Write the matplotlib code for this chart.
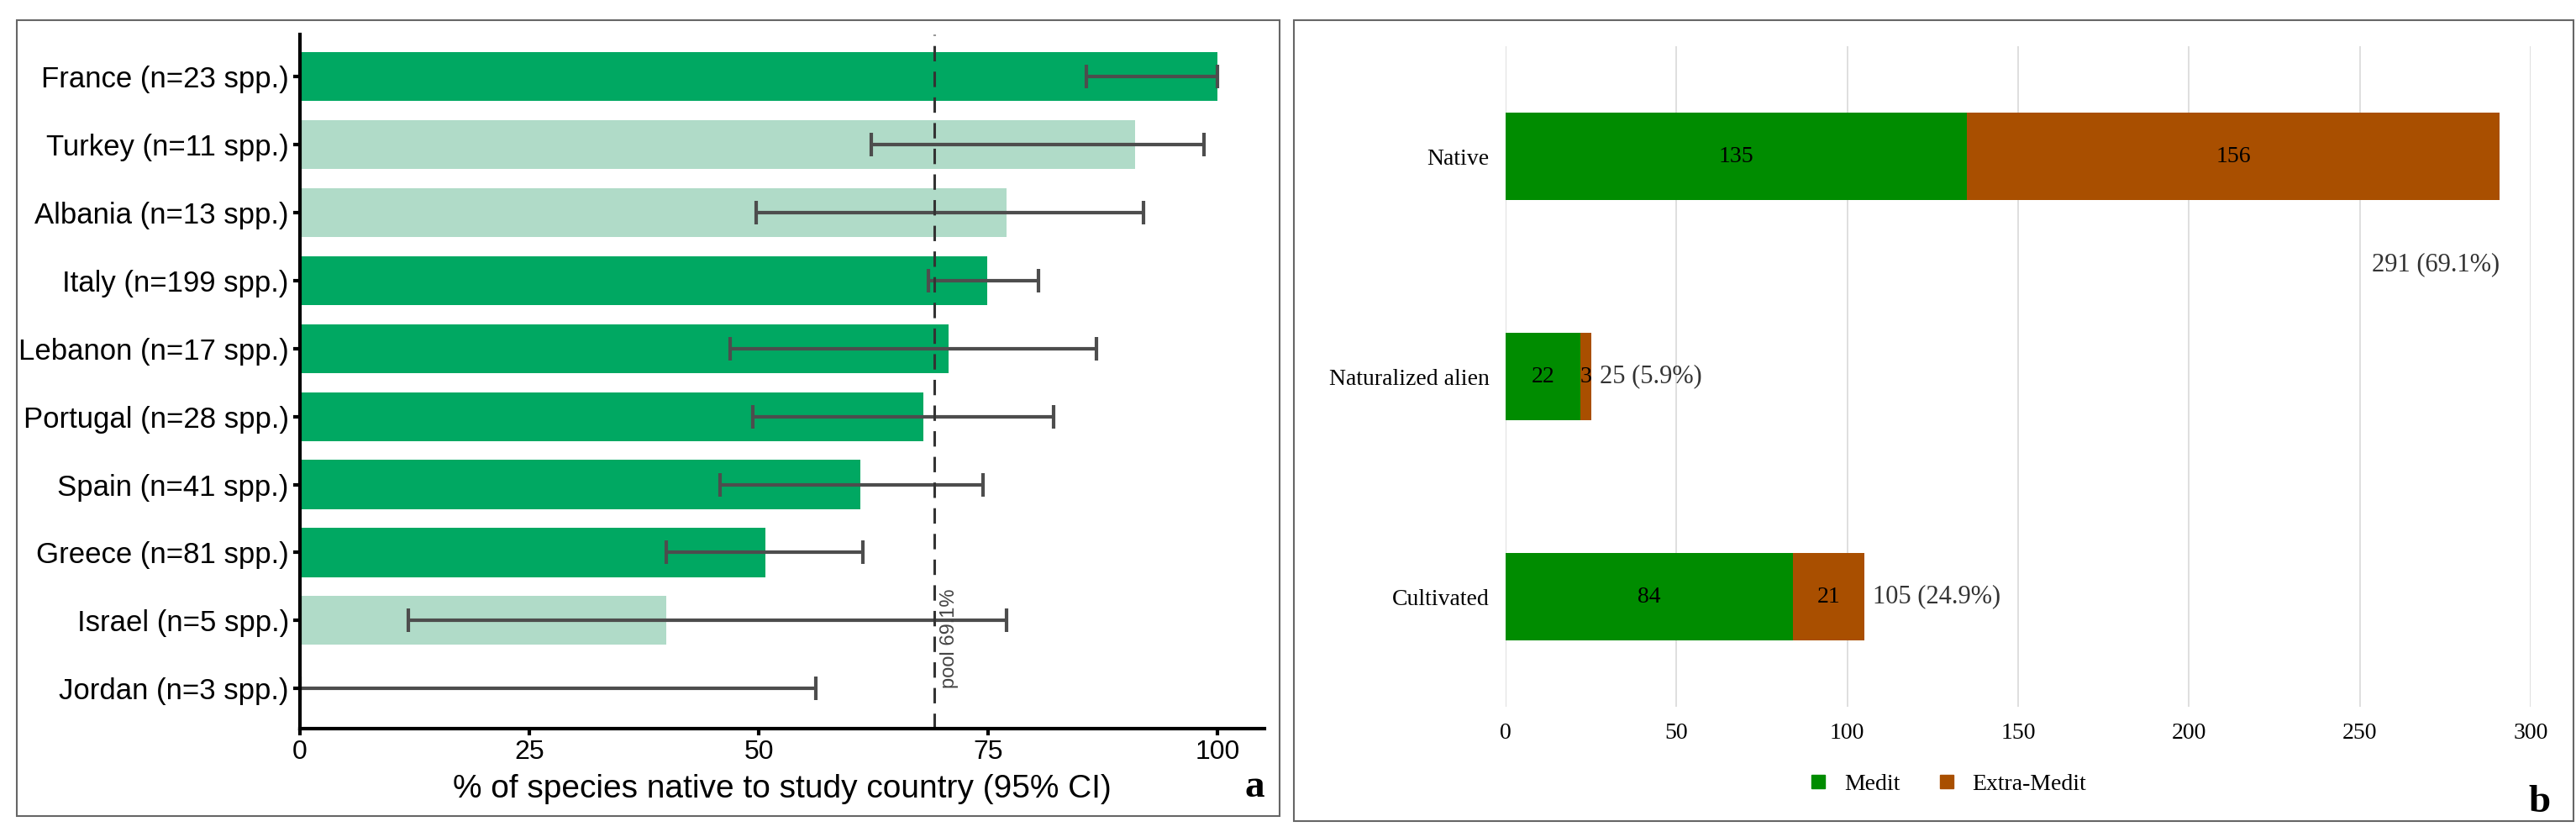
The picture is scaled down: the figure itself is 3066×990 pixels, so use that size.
import matplotlib
matplotlib.use("Agg")
import matplotlib.pyplot as plt
from matplotlib.patches import Rectangle
from matplotlib.lines import Line2D
from matplotlib import font_manager

countries = ["France (n=23 spp.)", "Turkey (n=11 spp.)", "Albania (n=13 spp.)", "Italy (n=199 spp.)",
             "Lebanon (n=17 spp.)", "Portugal (n=28 spp.)", "Spain (n=41 spp.)", "Greece (n=81 spp.)",
             "Israel (n=5 spp.)", "Jordan (n=3 spp.)"]
pct_native = [100, 91.0, 77.0, 74.9, 70.7, 67.9, 61.1, 50.7, 39.9, 0]
ci_low = [85.7, 62.3, 49.7, 68.5, 46.9, 49.3, 45.8, 39.9, 11.8, 0]
ci_high = [100, 98.5, 91.9, 80.5, 86.8, 82.1, 74.4, 61.3, 77.0, 56.2]
small_sample = [False, True, True, False, False, False, False, False, True, True]
pool_pct = 69.1

status = ["Native", "Naturalized alien", "Cultivated"]
medit = [135, 22, 84]
extra_medit = [156, 3, 21]
total_labels = ["291 (69.1%)", "25 (5.9%)", "105 (24.9%)"]

names = {f.name for f in font_manager.fontManager.ttflist}
sans = ["Liberation Sans Narrow", "Liberation Sans"] if "Liberation Sans Narrow" in names else ["Liberation Sans"]
serif = ["Liberation Serif", "DejaVu Serif"]

fig = plt.figure(figsize=(30.66, 9.9), dpi=100)

# panel boxes
for (x0, y0, x1, y1) in [(20, 24, 1523, 971), (1540, 24, 3063, 977)]:
    fig.add_artist(Rectangle((x0 / 3066, 1 - y1 / 990), (x1 - x0) / 3066, (y1 - y0) / 990,
                             transform=fig.transFigure, fill=False, edgecolor="#666666", lw=1.5))

# ---- panel a
ax = fig.add_axes([357 / 3066, 1 - 867 / 990, (1505 - 357) / 3066, (867 - 41) / 990])
ypos = list(range(len(countries)))
colors = ["#B0DBC8" if s else "#00A862" for s in small_sample]
ax.barh(ypos, pct_native, height=0.72, color=colors)
xerr = [[p - l for p, l in zip(pct_native, ci_low)], [h - p for p, h in zip(pct_native, ci_high)]]
ax.errorbar(pct_native, ypos, xerr=xerr, fmt="none", ecolor="#4D4D4D", elinewidth=3, capsize=10, capthick=3)
ax.axvline(pool_pct, color="#333333", ls=(0, (6, 4)), lw=2.2)
ax.text(pool_pct + 0.7, 9.0, f"pool {pool_pct}%", rotation=90, ha="left", va="bottom",
        color="#444444", fontsize=17, family=["Liberation Sans"])
ax.set_xlim(0, 105.1)
ax.set_ylim(9.59, -0.62)
ax.set_yticks(ypos)
ax.set_yticklabels(countries, family=sans, fontsize=25)
ax.set_xticks([0, 25, 50, 75, 100])
ax.set_xticklabels(["0", "25", "50", "75", "100"], family=sans, fontsize=23)
ax.set_xlabel("% of species native to study country (95% CI)", family=sans, fontsize=28, labelpad=8)
for s in ["top", "right"]:
    ax.spines[s].set_visible(False)
for s in ["left", "bottom"]:
    ax.spines[s].set_linewidth(3)
ax.tick_params(length=6, width=3)
fig.text(1493 / 3066, 1 - 937 / 990, "a", family=serif, fontsize=34, fontweight="bold", ha="center", va="center")

# ---- panel b
bx = fig.add_axes([1792 / 3066, 1 - 841 / 990, (3012 - 1792) / 3066, (841 - 55) / 990])
yb = list(range(len(status)))
green, orange = "#008C00", "#A94F00"
bx.barh(yb, medit, height=0.4, color=green, zorder=3)
bx.barh(yb, extra_medit, left=medit, height=0.4, color=orange, zorder=3)
for i in yb:
    bx.text(medit[i] / 2, i, str(medit[i]), ha="center", va="center", family=serif, fontsize=20, zorder=4)
    bx.text(medit[i] + extra_medit[i] / 2, i, str(extra_medit[i]), ha="center", va="center",
            family=serif, fontsize=20, zorder=4)
    tot = medit[i] + extra_medit[i]
    if i == 0:
        bx.text(tot, i + 0.49, total_labels[i], ha="right", va="center", family=serif, fontsize=22, color="#333333")
    else:
        bx.text(tot + 2.5, i, total_labels[i], ha="left", va="center", family=serif, fontsize=22, color="#333333")
bx.set_xlim(0, 300)
bx.set_ylim(2.5, -0.5)
bx.set_yticks(yb)
bx.set_yticklabels(status, family=serif, fontsize=20)
bx.set_xticks(range(0, 301, 50))
bx.set_xticklabels([str(v) for v in range(0, 301, 50)], family=serif, fontsize=20)
bx.grid(axis="x", color="#D9D9D9", lw=1.2, zorder=0)
for s in bx.spines.values():
    s.set_visible(False)
bx.tick_params(length=0, pad=14)
handles = [Line2D([], [], marker="s", ls="", color=green, markersize=12, label="Medit"),
           Line2D([], [], marker="s", ls="", color=orange, markersize=12, label="Extra-Medit")]
fig.legend(handles=handles, loc="center", bbox_to_anchor=(2310 / 3066, 1 - 933 / 990), ncol=2, frameon=False,
           prop={"family": serif, "size": 20}, handletextpad=0.1, columnspacing=1.0)
fig.text(3023 / 3066, 1 - 955 / 990, "b", family=serif, fontsize=34, fontweight="bold", ha="center", va="center")

fig.savefig("out.png", dpi=100)
